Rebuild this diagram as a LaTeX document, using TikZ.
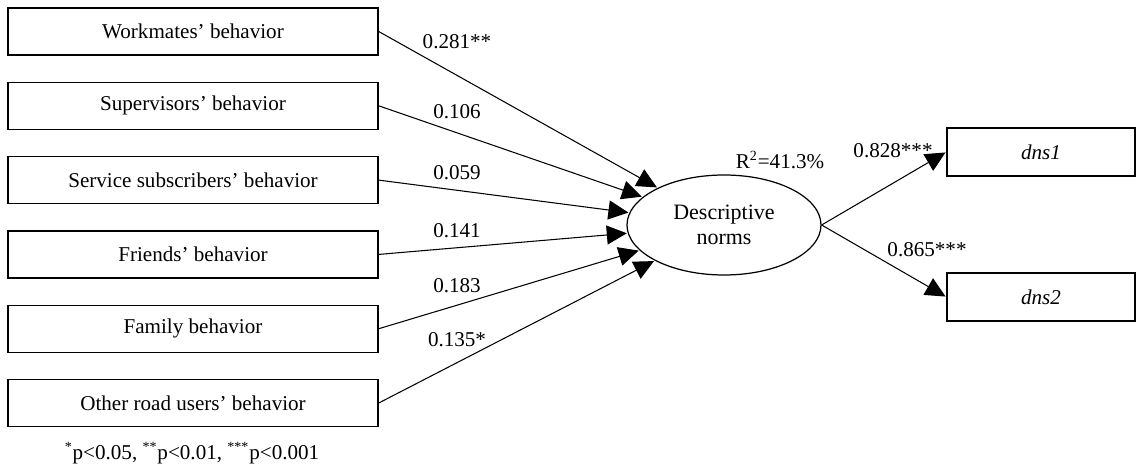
\documentclass[tikz,border=0pt]{standalone}
\usepackage{fontspec}
\setmainfont{Liberation Serif}
\usetikzlibrary{positioning,arrows.meta,shapes.geometric}

\tikzset{
  box/.style={draw, line width=0.8pt, minimum width=7.4cm, minimum height=0.94cm,
    inner sep=0pt, font=\fontsize{12}{14}\selectfont},
  itembox/.style={box, minimum width=3.76cm, minimum height=0.96cm, font=\fontsize{12}{14}\selectfont\itshape},
  latent/.style={draw, ellipse, line width=0.7pt, minimum width=3.88cm, minimum height=2cm,
    inner sep=0pt, align=center, font=\fontsize{12.5}{14.5}\selectfont},
  coef/.style={inner sep=1pt, font=\fontsize{12}{14}\selectfont},
  link/.style={line width=0.6pt, shorten >=0.5pt, -{Triangle[length=0.4cm, width=0.38cm]}}
}

\begin{document}
\begin{tikzpicture}
  \useasboundingbox (0,0) rectangle (22.72,-9.36);

  % --- Predictors (left column) ---
  \node[box] (work) at (3.86,-0.63) {Workmates’ behavior};
  \node[box, below=0.518cm of work] (super) {Supervisors’ behavior};
  \node[box, below=0.518cm of super] (serv) {Service subscribers’ behavior};
  \node[box, below=0.518cm of serv] (friend) {Friends’ behavior};
  \node[box, below=0.518cm of friend] (family) {Family behavior};
  \node[box, below=0.518cm of family] (road) {Other road users’ behavior};

  % --- Latent construct ---
  \node[latent] (dn) at (14.48,-4.5) {Descriptive\\norms};

  % --- Indicators (right column) ---
  \node[itembox] (dns1) at (20.82,-3.04) {dns1};
  \node[itembox] (dns2) at (20.82,-5.94) {dns2};

  % --- Paths ---
  \draw[link] (work.east) -- (dn);
  \draw[link] (super.east) -- (dn);
  \draw[link] (serv.east) -- (dn);
  \draw[link] (friend.east) -- (dn);
  \draw[link] (family.east) -- (dn);
  \draw[link] (road.east) -- (dn);
  \draw[link] (dn.east) -- (dns1.west);
  \draw[link] (dn.east) -- (dns2.west);

  % --- Coefficients ---
  \node[coef] (c1) at (9.14,-0.84) {0.281**};
  \node[coef] (c2) at (9.14,-2.24) {0.106};
  \node[coef] (c3) at (9.14,-3.46) {0.059};
  \node[coef] (c4) at (9.14,-4.62) {0.141};
  \node[coef] (c5) at (9.14,-5.72) {0.183};
  \node[coef] (c6) at (9.14,-6.8) {0.135*};
  \node[coef] (r2) at (15.6,-3.2) {R\textsuperscript{2}=41.3\%};
  \node[coef] (l1) at (17.86,-3.02) {0.828***};
  \node[coef] (l2) at (18.54,-5.0) {0.865***};

  % footnote
  \node[coef] (note) at (3.84,-9.06) {\textsuperscript{*}p<0.05, \textsuperscript{**}p<0.01, \textsuperscript{***}p<0.001};
\end{tikzpicture}
\end{document}
